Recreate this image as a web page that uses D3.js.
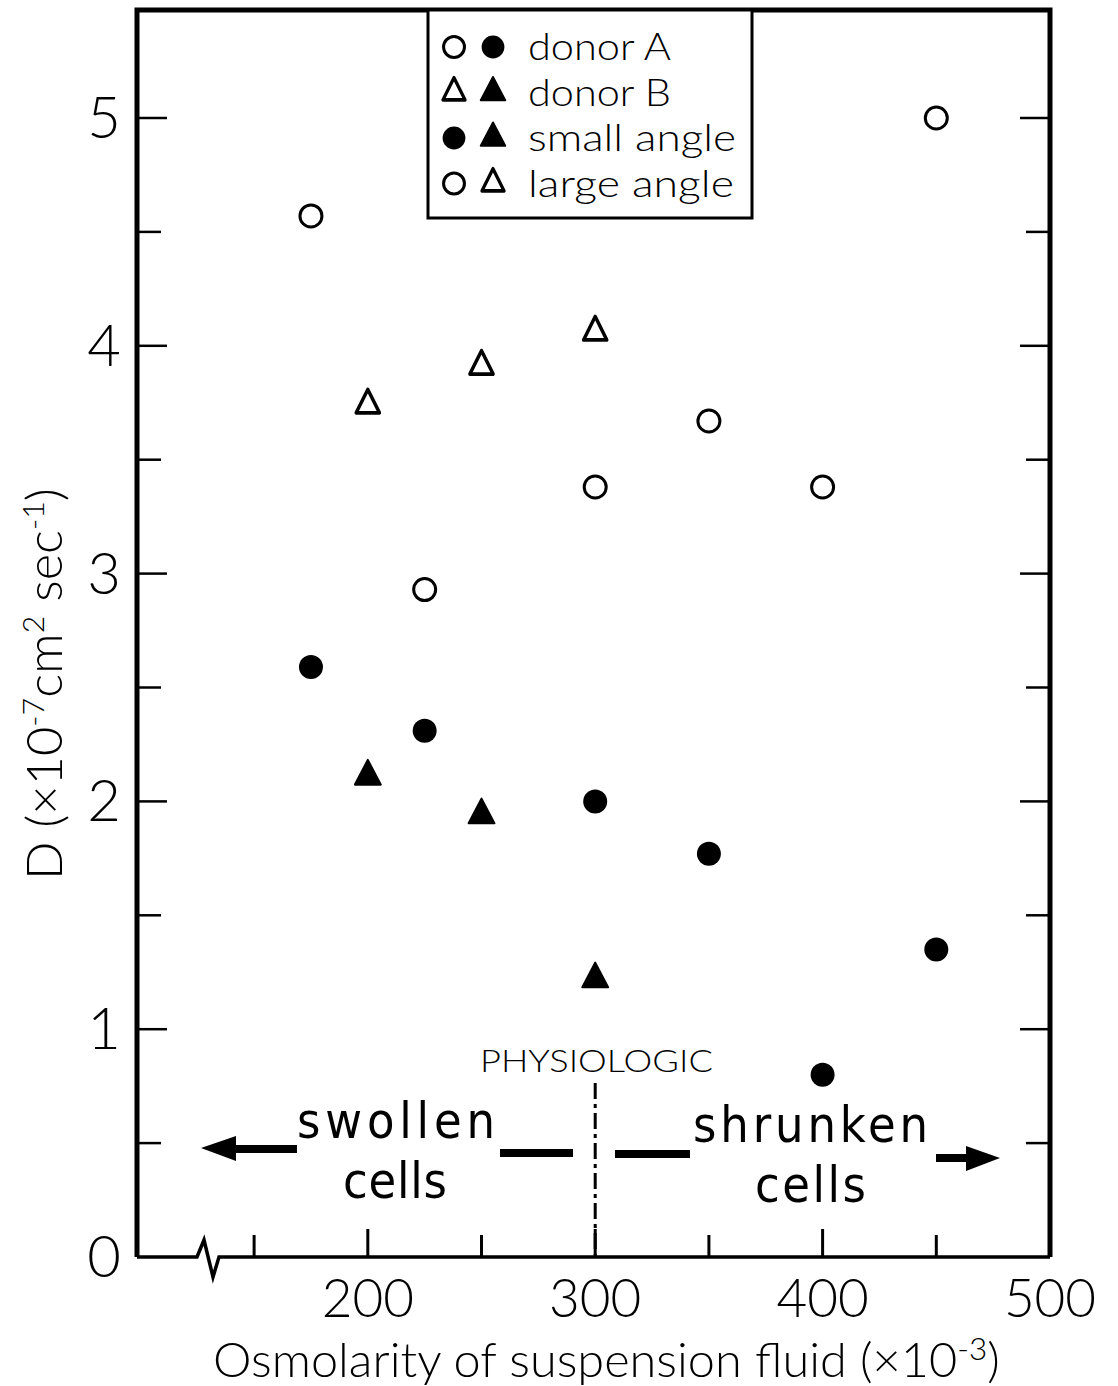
<!DOCTYPE html>
<html>
<head>
<meta charset="utf-8">
<script src="https://cdn.jsdelivr.net/npm/d3@7"></script>
<style>
  html, body { margin: 0; padding: 0; background: #fff; }
  svg { display: block; }
  .tick-label { font-family: Lato, "Open Sans", sans-serif; font-weight: 300; fill: #000; }
  .narrow { font-family: "DejaVu Sans Condensed", "DejaVu Sans", sans-serif; font-weight: 400; fill: #000; }
</style>
</head>
<body>
<script>
// Diffusion coefficient vs osmolarity, two donors, small/large scattering angle
const largeAngleA = [[175, 4.57], [225, 2.93], [300, 3.38], [350, 3.67], [400, 3.38], [450, 5.00]];
const smallAngleA = [[175, 2.59], [225, 2.31], [300, 2.00], [350, 1.77], [400, 0.80], [450, 1.35]];
const largeAngleB = [[200, 3.74], [250, 3.91], [300, 4.06]];
const smallAngleB = [[200, 2.11], [250, 1.94], [300, 1.22]];

const xTickValues = [150, 200, 250, 300, 350, 400, 450];
const xLabelValues = [200, 300, 400, 500];
const yTickValues = [0, 0.5, 1, 1.5, 2, 2.5, 3, 3.5, 4, 4.5, 5];
const yLabelValues = [0, 1, 2, 3, 4, 5];

const legendRows = [
  { symbols: ["circleOpen", "circleFilled"], text: "donor A" },
  { symbols: ["triOpen", "triFilled"], text: "donor B" },
  { symbols: ["circleFilled", "triFilled"], text: "small angle" },
  { symbols: ["circleOpen", "triOpen"], text: "large angle" }
];

const W = 1118, H = 1386;
const pLeft = 137, pRight = 1050, pTop = 10, pBottom = 1257;

const x = d3.scaleLinear().domain([98.5, 500]).range([pLeft, pRight]);
const y = d3.scaleLinear().domain([0, 5]).range([pBottom, 118]);

const svg = d3.select("body").append("svg").attr("width", W).attr("height", H);

// squeeze a text element horizontally to a given drawn width
function fitWidth(sel, target, baseTransform) {
  const w = sel.node().getBBox().width;
  sel.attr("transform", `${baseTransform} scale(${target / w},1)`);
}

// frame: left, top, right sides
svg.append("path")
  .attr("d", `M${pLeft},${pBottom} L${pLeft},${pTop} L${pRight},${pTop} L${pRight},${pBottom}`)
  .attr("fill", "none").attr("stroke", "#000").attr("stroke-width", 5);

// bottom axis with a break near the origin
svg.append("path")
  .attr("d", `M${pLeft},${pBottom} L${pLeft + 60},${pBottom} L${pLeft + 67},${pBottom - 17} L${pLeft + 76},${pBottom + 20} L${pLeft + 82},${pBottom} L${pRight},${pBottom}`)
  .attr("fill", "none").attr("stroke", "#000").attr("stroke-width", 3.5).attr("stroke-linejoin", "miter");

// y ticks, inward on both sides
const yt = svg.append("g");
yTickValues.forEach(v => {
  if (v === 0) return;
  const major = Number.isInteger(v);
  const len = major ? 30 : 24;
  yt.append("line").attr("x1", pLeft).attr("x2", pLeft + len).attr("y1", y(v)).attr("y2", y(v))
    .attr("stroke", "#000").attr("stroke-width", 2.5);
  yt.append("line").attr("x1", pRight).attr("x2", pRight - len).attr("y1", y(v)).attr("y2", y(v))
    .attr("stroke", "#000").attr("stroke-width", 2.5);
});

// x ticks, upward
xTickValues.forEach(v => {
  const major = v % 100 === 0;
  svg.append("line").attr("x1", x(v)).attr("x2", x(v)).attr("y1", pBottom).attr("y2", pBottom - (major ? 28 : 22))
    .attr("stroke", "#000").attr("stroke-width", 3);
});

// tick labels
svg.append("g").selectAll("text").data(yLabelValues).join("text")
  .attr("class", "tick-label")
  .attr("x", pLeft - 16).attr("y", d => y(d) + 20)
  .attr("text-anchor", "end").attr("font-size", 58)
  .text(d => d);

svg.append("g").selectAll("text").data(xLabelValues).join("text")
  .attr("class", "tick-label")
  .attr("x", d => x(d)).attr("y", pBottom + 60)
  .attr("text-anchor", "middle").attr("font-size", 53)
  .text(d => d);

// axis titles, condensed to the drawn width
const xt = svg.append("text").attr("class", "tick-label")
  .attr("x", 0).attr("y", 0).attr("font-size", 48);
xt.append("tspan").text("Osmolarity of suspension fluid (×10");
xt.append("tspan").attr("dy", -17).attr("font-size", 31).text("-3");
xt.append("tspan").attr("dy", 17).text(")");
fitWidth(xt, 787, "translate(213,1377)");

const ytl = svg.append("text").attr("class", "tick-label")
  .attr("x", 0).attr("y", 0).attr("font-size", 50);
ytl.append("tspan").text("D (×10");
ytl.append("tspan").attr("dy", -18).attr("font-size", 30).text("-7");
ytl.append("tspan").attr("dy", 18).text("cm");
ytl.append("tspan").attr("dy", -18).attr("font-size", 30).text("2");
ytl.append("tspan").attr("dy", 18).text(" sec");
ytl.append("tspan").attr("dy", -18).attr("font-size", 30).text("-1");
ytl.append("tspan").attr("dy", 18).text(")");
fitWidth(ytl, 392, "translate(62,880) rotate(-90)");

// marker drawing
const triPath = d3.symbol().type(d3.symbolTriangle).size(260);
function drawMarker(g, type, cx, cy, scale = 1) {
  if (type === "circleOpen") {
    g.append("circle").attr("cx", cx).attr("cy", cy).attr("r", 11 * scale)
      .attr("fill", "#fff").attr("stroke", "#000").attr("stroke-width", 3);
  } else if (type === "circleFilled") {
    g.append("circle").attr("cx", cx).attr("cy", cy).attr("r", 12 * scale).attr("fill", "#000");
  } else if (type === "triOpen") {
    g.append("path").attr("d", triPath).attr("transform", `translate(${cx},${cy}) scale(${0.95 * scale},${1.1 * scale})`)
      .attr("fill", "#fff").attr("stroke", "#000").attr("stroke-width", 3.5).attr("stroke-linejoin", "round");
  } else {
    g.append("path").attr("d", triPath).attr("transform", `translate(${cx},${cy}) scale(${1.05 * scale},${1.15 * scale})`)
      .attr("fill", "#000").attr("stroke", "#000").attr("stroke-width", 2).attr("stroke-linejoin", "round");
  }
}

const marks = svg.append("g");
largeAngleA.forEach(([a, b]) => drawMarker(marks, "circleOpen", x(a), y(b)));
smallAngleA.forEach(([a, b]) => drawMarker(marks, "circleFilled", x(a), y(b)));
largeAngleB.forEach(([a, b]) => drawMarker(marks, "triOpen", x(a), y(b)));
smallAngleB.forEach(([a, b]) => drawMarker(marks, "triFilled", x(a), y(b)));

// legend box
const legendWidths = [143, 143, 208, 206];
const lg = svg.append("g");
lg.append("rect").attr("x", 428).attr("y", pTop).attr("width", 324).attr("height", 208)
  .attr("fill", "#fff").attr("stroke", "#000").attr("stroke-width", 3);
legendRows.forEach((row, i) => {
  const cy = 47 + i * 45.5;
  row.symbols.forEach((s, j) => drawMarker(lg, s, 454 + j * 39, cy, 0.95));
  const t = lg.append("text").attr("class", "tick-label").attr("font-weight", 400)
    .attr("x", 0).attr("y", 0).attr("font-size", 37).text(row.text);
  fitWidth(t, legendWidths[i], `translate(528,${cy + 13})`);
});

// physiologic marker line
svg.append("line").attr("x1", x(300)).attr("x2", x(300)).attr("y1", 1083).attr("y2", pBottom)
  .attr("stroke", "#000").attr("stroke-width", 3).attr("stroke-dasharray", "16,5,4,5");
const phys = svg.append("text").attr("class", "tick-label").attr("font-weight", 600)
  .attr("x", 0).attr("y", 0).attr("font-size", 32).text("PHYSIOLOGIC");
fitWidth(phys, 233, "translate(480,1072)");

// swollen / shrunken annotations
const ann = svg.append("g");
function annText(str, x0, yb, len) {
  ann.append("text").attr("class", "narrow").attr("x", x0).attr("y", yb)
    .attr("font-size", 50).attr("textLength", len).attr("lengthAdjust", "spacing").text(str);
}
annText("swollen", 297, 1138, 198);
annText("cells", 343, 1198, 104);
annText("shrunken", 693, 1142, 235);
annText("cells", 755, 1202, 111);

const thick = 8;
ann.append("line").attr("x1", 230).attr("x2", 297).attr("y1", 1149).attr("y2", 1149).attr("stroke", "#000").attr("stroke-width", thick);
ann.append("path").attr("d", "M201,1148 L236,1136 L236,1161 Z").attr("fill", "#000");
ann.append("line").attr("x1", 500).attr("x2", 573).attr("y1", 1153).attr("y2", 1153).attr("stroke", "#000").attr("stroke-width", thick);
ann.append("line").attr("x1", 615).attr("x2", 690).attr("y1", 1154).attr("y2", 1154).attr("stroke", "#000").attr("stroke-width", thick);
ann.append("line").attr("x1", 936).attr("x2", 972).attr("y1", 1158).attr("y2", 1158).attr("stroke", "#000").attr("stroke-width", thick);
ann.append("path").attr("d", "M1000,1158 L966,1146 L966,1171 Z").attr("fill", "#000");
</script>
</body>
</html>
